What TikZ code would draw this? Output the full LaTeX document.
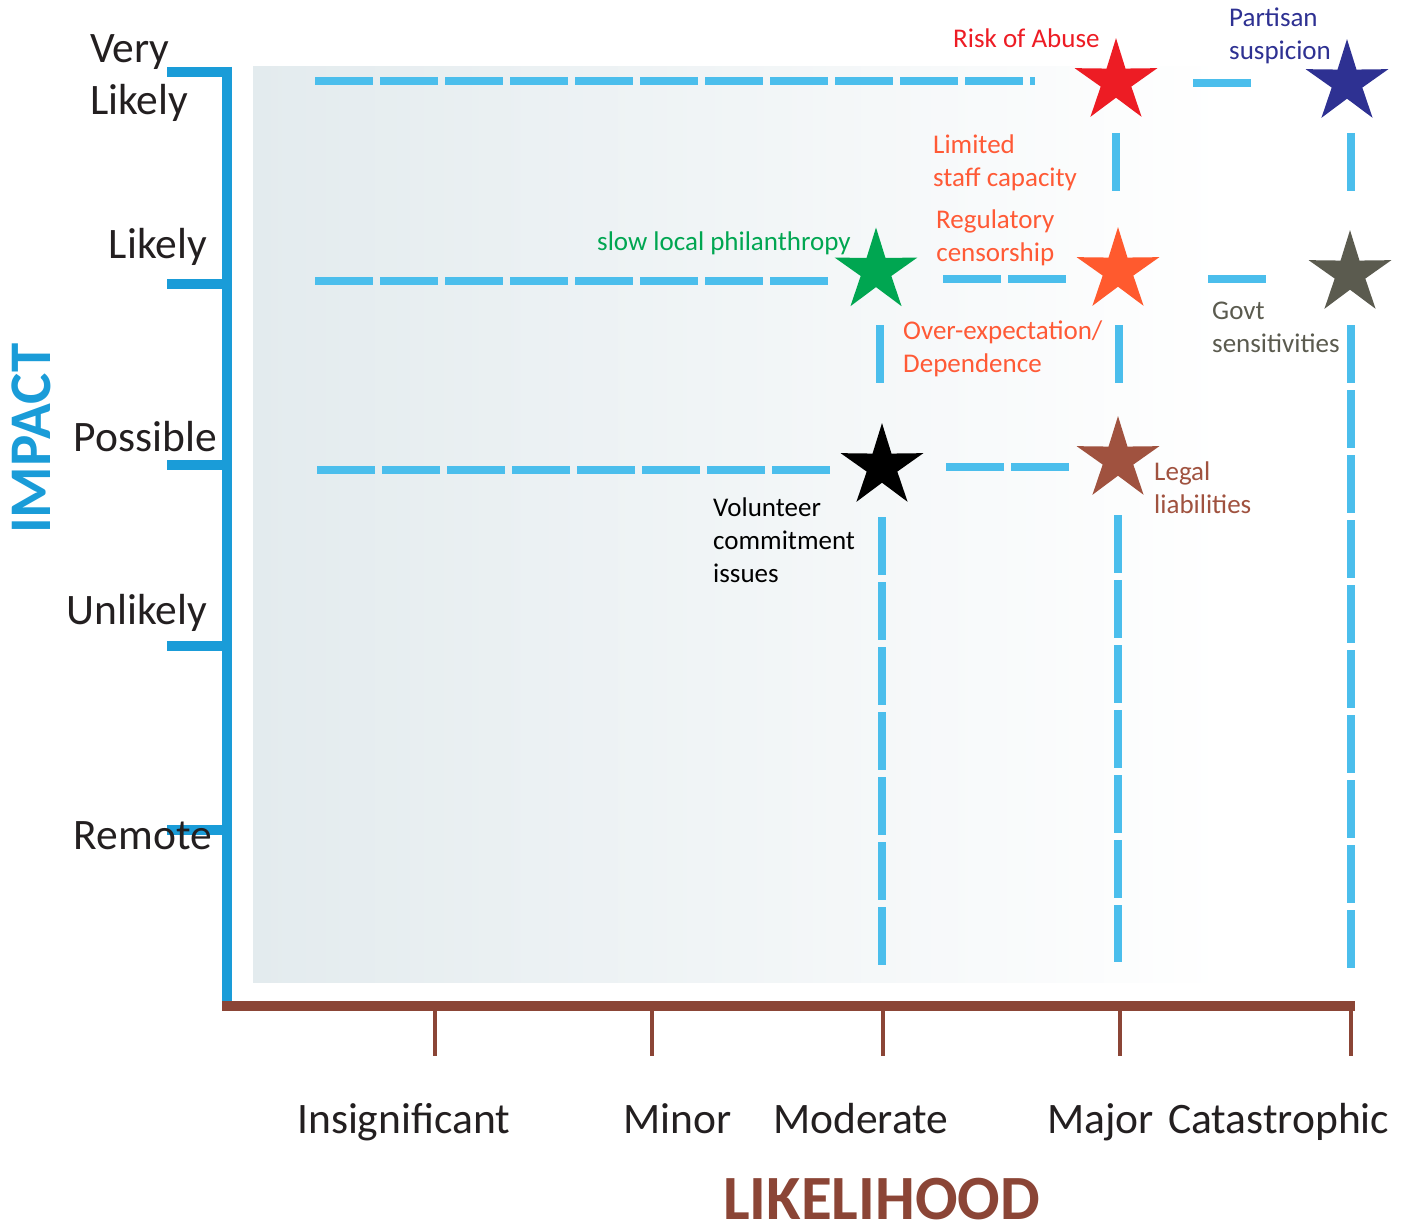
\documentclass[tikz,border=0pt]{standalone}
\usepackage{fontspec}
\setmainfont{Carlito}
\usetikzlibrary{shapes.geometric}
\definecolor{axisblue}{HTML}{1A9CD8}
\definecolor{dashblue}{HTML}{4BBEEC}
\definecolor{axisbrown}{HTML}{8B4536}
\definecolor{bgblue}{HTML}{E3EBEE}
\definecolor{txt}{HTML}{231F20}
\definecolor{cred}{HTML}{ED1C24}
\definecolor{cnavy}{HTML}{2E3192}
\definecolor{cgreen}{HTML}{00A651}
\definecolor{corange}{HTML}{FF5A2E}
\definecolor{corangetxt}{HTML}{FF5A36}
\definecolor{cgray}{HTML}{5B5B4F}
\definecolor{cbrown}{HTML}{A0523F}
\begin{document}
\begin{tikzpicture}[x=1pt,y=-1pt,
  riskstar/.style={star, star points=5, star point ratio=2.7, minimum size=87pt, inner sep=0pt, draw=none, fill=#1},
  gridline/.style={draw=dashblue, line width=8pt, dash pattern=on 58pt off 7pt},
  yaxis/.style={draw=axisblue, line width=10pt},
  xaxis/.style={draw=axisbrown, line width=10pt},
  xtick/.style={draw=axisbrown, line width=4.5pt},
  big/.style={font=\fontsize{43.5}{52}\selectfont, text=txt, inner sep=0pt},
  small/.style={font=\fontsize{27}{33}\selectfont, inner sep=0pt, align=left},
]
\useasboundingbox (0,0) rectangle (1416,1228);
% background
\fill[left color=bgblue, right color=white] (253,67) rectangle (1225,982);

% grid dashed lines
\draw[gridline] (315,81) -- (1035,81);
\draw[gridline] (1193,83) -- (1251,83);
\draw[gridline] (315,281) -- (828,281);
\draw[gridline] (943,279) -- (1066,279);
\draw[gridline] (1208,279) -- (1266,279);
\draw[gridline] (317,470) -- (830,470);
\draw[gridline] (946,467) -- (1070,467);
\draw[gridline] (1116,133) -- (1116,191);
\draw[gridline] (1351,133) -- (1351,191);
\draw[gridline] (880,325) -- (880,383);
\draw[gridline] (1119,325) -- (1119,383);
\draw[gridline] (1351,325) -- (1351,972);
\draw[gridline] (882,517) -- (882,966);
\draw[gridline] (1118,515) -- (1118,962);

% stars
\node[riskstar=cred] (abuse) at (1116,81.6) {};
\node[riskstar=cnavy] (partisan) at (1347,82.6) {};
\node[riskstar=cgreen] (philan) at (876,271) {};
\node[riskstar=corange] (regul) at (1118,270.6) {};
\node[riskstar=cgray] (govt) at (1350,273.6) {};
\node[riskstar=black] (volun) at (882,466.6) {};
\node[riskstar=cbrown] (legal) at (1118,459.6) {};

% y axis
\draw[yaxis] (227,67) -- (227,1001);
\foreach \yy in {72,284,465,646,830}
  \draw[yaxis] (167,\yy) -- (227,\yy);
% x axis
\draw[xaxis] (222,1006) -- (1355,1006);
\foreach \xx in {435,652,883,1120,1351}
  \draw[xtick] (\xx,1006) -- (\xx,1056);

% y labels
\node[big, anchor=base west] (vl1) at (90,63) {Very};
\node[big, anchor=base west] (vl2) at (90,115) {Likely};
\node[big, anchor=base east] (lk) at (207,258) {Likely};
\node[big, anchor=base east] (ps) at (217,451) {Possible};
\node[big, anchor=base east] (ul) at (207,624) {Unlikely};
\node[big, anchor=base east] (rm) at (212,849) {Remote};
\node[font=\fontsize{59}{62}\selectfont\bfseries, text=axisblue, inner sep=0pt, rotate=90, anchor=base west] (impact) at (50,534) {IMPACT};

% x labels
\node[big, anchor=base west] (xi) at (297,1133) {Insignificant};
\node[big, anchor=base west] (xmi) at (623,1133) {Minor};
\node[big, anchor=base west] (xmo) at (773,1133) {Moderate};
\node[big, anchor=base west] (xma) at (1047,1133) {Major};
\node[big, anchor=base west] (xc) at (1168,1133) {Catastrophic};
\node[font=\fontsize{63}{66}\selectfont\bfseries, text=axisbrown, inner sep=0pt, anchor=base west] (likeli) at (723,1219) {LIKELIHOOD};

% risk labels (base anchor = baseline of last line)
\node[small, text=cred, anchor=base west] (tabuse) at (953,48) {Risk of Abuse};
\node[small, text=cnavy, anchor=base west] (tpart) at (1229,60) {Partisan\\suspicion};
\node[small, text=corangetxt, anchor=base west] (tstaff) at (933,186) {Limited\\staff capacity};
\node[small, text=corangetxt, anchor=base west, align=center] (treg) at (936,261) {Regulatory\\censorship};
\node[small, text=cgreen, anchor=base west] (tphil) at (597,250) {slow local philanthropy};
\node[small, text=corangetxt, anchor=base west] (tover) at (903,372) {Over-expectation/\\Dependence};
\node[small, text=cgray, anchor=base west] (tgovt) at (1212,352) {Govt\\sensitivities};
\node[small, text=black, anchor=base west] (tvol) at (713,582) {Volunteer\\commitment\\issues};
\node[small, text=cbrown, anchor=base west] (tlegal) at (1154,513) {Legal\\liabilities};
\end{tikzpicture}
\end{document}
